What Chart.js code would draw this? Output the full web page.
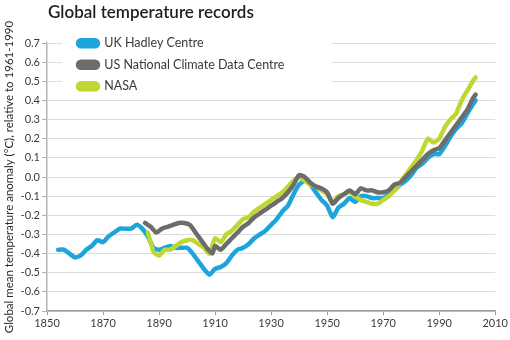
<!DOCTYPE html>
<html>
<head>
<meta charset="utf-8">
<script src="https://cdn.jsdelivr.net/npm/chart.js@4/dist/chart.umd.min.js"></script>
<style>
  html, body { margin: 0; padding: 0; background: #fff; }
  #wrap { width: 510px; height: 340px; }
</style>
</head>
<body>
<div id="wrap"><canvas id="tempChart" width="510" height="340"></canvas></div>
<script>
const chartTitle = 'Global temperature records';
const yAxisTitle = 'Global mean temperature anomaly (°C), relative to 1961-1990';

const ukLabel = 'UK Hadley Centre';
const ukYears = [1854, 1856, 1858, 1860, 1862, 1864, 1866, 1868, 1870, 1872, 1874, 1876, 1878, 1880,
  1882, 1884, 1886, 1888, 1890, 1892, 1894, 1896, 1898, 1900, 1902, 1904, 1906, 1908, 1910, 1912,
  1914, 1916, 1918, 1920, 1922, 1924, 1926, 1928, 1930, 1932, 1934, 1936, 1938, 1940, 1942, 1944,
  1946, 1948, 1950, 1952, 1954, 1956, 1958, 1960, 1962, 1964, 1966, 1968, 1970, 1972, 1974, 1976,
  1978, 1980, 1982, 1984, 1986, 1988, 1990, 1992, 1994, 1996, 1998, 2000, 2002, 2003];
const ukValues = [-0.38, -0.38, -0.40, -0.42, -0.41, -0.38, -0.36, -0.33, -0.34, -0.31, -0.29, -0.27, -0.27, -0.27,
  -0.25, -0.27, -0.31, -0.37, -0.38, -0.37, -0.36, -0.37, -0.37, -0.37, -0.40, -0.44, -0.48, -0.51, -0.48, -0.47,
  -0.45, -0.41, -0.38, -0.37, -0.35, -0.32, -0.30, -0.28, -0.25, -0.22, -0.18, -0.15, -0.09, -0.04, -0.02, -0.04,
  -0.08, -0.12, -0.15, -0.21, -0.16, -0.14, -0.11, -0.13, -0.10, -0.10, -0.11, -0.11, -0.11, -0.09, -0.07, -0.04,
  -0.02, 0.01, 0.05, 0.07, 0.10, 0.12, 0.12, 0.16, 0.21, 0.25, 0.28, 0.33, 0.38, 0.40];

const usLabel = 'US National Climate Data Centre';
const usYears = [1885, 1887, 1889, 1891, 1893, 1895, 1897, 1899, 1901, 1903, 1905, 1907, 1909, 1910,
  1912, 1914, 1916, 1918, 1920, 1922, 1924, 1926, 1928, 1930, 1932, 1934, 1936, 1938, 1940, 1942,
  1944, 1946, 1948, 1950, 1952, 1954, 1956, 1958, 1960, 1962, 1964, 1966, 1968, 1970, 1972, 1974,
  1976, 1978, 1980, 1982, 1984, 1986, 1988, 1990, 1992, 1994, 1996, 1998, 2000, 2002, 2003];
const usValues = [-0.24, -0.26, -0.29, -0.27, -0.26, -0.25, -0.24, -0.24, -0.25, -0.29, -0.33, -0.37, -0.40, -0.36,
  -0.38, -0.35, -0.32, -0.29, -0.26, -0.24, -0.21, -0.19, -0.17, -0.15, -0.13, -0.11, -0.08, -0.04, 0.01, 0.00,
  -0.03, -0.05, -0.06, -0.08, -0.14, -0.11, -0.09, -0.07, -0.09, -0.06, -0.07, -0.07, -0.08, -0.08, -0.07, -0.04,
  -0.03, 0.00, 0.03, 0.06, 0.09, 0.12, 0.14, 0.15, 0.19, 0.23, 0.27, 0.31, 0.35, 0.41, 0.43];

const nasaLabel = 'NASA';
const nasaYears = [1886, 1888, 1890, 1892, 1894, 1896, 1898, 1900, 1902, 1904, 1906, 1908, 1910, 1912,
  1914, 1916, 1918, 1920, 1922, 1924, 1926, 1928, 1930, 1932, 1934, 1936, 1938, 1940, 1942, 1944,
  1946, 1948, 1950, 1952, 1954, 1956, 1958, 1960, 1962, 1964, 1966, 1968, 1970, 1972, 1974, 1976,
  1978, 1980, 1982, 1984, 1986, 1988, 1990, 1992, 1994, 1996, 1998, 2000, 2002, 2003];
const nasaValues = [-0.29, -0.39, -0.41, -0.38, -0.38, -0.36, -0.34, -0.33, -0.33, -0.35, -0.37, -0.40, -0.32, -0.34,
  -0.30, -0.28, -0.25, -0.22, -0.21, -0.18, -0.16, -0.14, -0.12, -0.10, -0.08, -0.05, -0.02, 0.00, -0.02, -0.04,
  -0.05, -0.07, -0.09, -0.13, -0.10, -0.09, -0.08, -0.10, -0.12, -0.13, -0.14, -0.14, -0.12, -0.10, -0.07, -0.03,
  0.01, 0.05, 0.09, 0.14, 0.20, 0.18, 0.20, 0.26, 0.30, 0.33, 0.40, 0.45, 0.50, 0.52];

const xMin = 1850, xMax = 2010, xStep = 20;
const yMin = -0.7, yMax = 0.7, yStep = 0.1;

const FONT = 'Lato, "Open Sans", sans-serif';
const TEXT = '#3a3a3a';

function toPoints(years, values) {
  return years.map((x, i) => ({ x, y: values[i] }));
}

function series(label, years, values, color, order) {
  return {
    label,
    data: toPoints(years, values),
    borderColor: color,
    backgroundColor: color,
    borderWidth: 4.5,
    pointRadius: 0,
    tension: 0.2,
    borderJoinStyle: 'round',
    borderCapStyle: 'round',
    order,
  };
}

// title, legend placement and the white box behind the legend
const extras = {
  id: 'extras',
  afterLayout(chart) {
    const lg = chart.legend;
    lg.left = 69;
    lg.top = 28;
  },
  beforeDatasetsDraw(chart) {
    const ctx = chart.ctx;
    ctx.save();
    ctx.fillStyle = '#fff';
    ctx.fillRect(62, 33, 270, 62);
    ctx.restore();
    chart.legend.draw();
  },
  afterDraw(chart) {
    const ctx = chart.ctx;
    ctx.save();
    ctx.fillStyle = '#1e1e1e';
    ctx.font = '600 17px ' + FONT;
    ctx.textBaseline = 'middle';
    ctx.fillText(chartTitle, 48, 13);
    ctx.restore();
  },
};

new Chart(document.getElementById('tempChart'), {
  type: 'line',
  data: {
    datasets: [
      series(ukLabel, ukYears, ukValues, '#1ca5da', 2),
      series(usLabel, usYears, usValues, '#6c6c6c', 0),
      series(nasaLabel, nasaYears, nasaValues, '#bfd730', 1),
    ],
  },
  options: {
    responsive: false,
    animation: false,
    layout: { padding: { top: 43, right: 11, bottom: 0, left: 0 } },
    scales: {
      x: {
        type: 'linear',
        min: xMin,
        max: xMax,
        afterFit(scale) { scale.height = 29; },
        ticks: {
          stepSize: xStep,
          color: TEXT,
          font: { family: FONT, size: 11 },
          padding: 2,
          maxRotation: 0,
          callback: (v) => String(v),
        },
        grid: { drawOnChartArea: false, drawTicks: true, tickLength: 4, tickColor: '#9a9a9a' },
        border: { color: '#9a9a9a', width: 1.5 },
      },
      y: {
        min: yMin,
        max: yMax,
        afterFit(scale) { scale.width = 47; },
        ticks: {
          stepSize: yStep,
          color: TEXT,
          font: { family: FONT, size: 11 },
          padding: 2,
          callback: (v) => (Math.abs(v) < 1e-9 ? 0 : v).toFixed(1),
        },
        grid: { color: '#dcdcdc', lineWidth: 1, tickLength: 5, tickColor: '#b0b0b0' },
        border: { color: '#b5b5b5', width: 1.5 },
        title: {
          display: true,
          text: yAxisTitle,
          color: '#2a2a2a',
          font: { family: FONT, size: 11.5 },
          padding: { top: 2, bottom: 0 },
        },
      },
    },
    plugins: {
      legend: {
        position: 'chartArea',
        align: 'start',
        labels: {
          boxWidth: 20,
          boxHeight: 6,
          useBorderRadius: true,
          borderRadius: 3,
          padding: 9,
          color: TEXT,
          font: { family: FONT, size: 12.5 },
          sort: (a, b) => a.datasetIndex - b.datasetIndex,
        },
      },
      title: { display: false },
      tooltip: { enabled: false },
    },
  },
  plugins: [extras],
});
</script>
</body>
</html>
